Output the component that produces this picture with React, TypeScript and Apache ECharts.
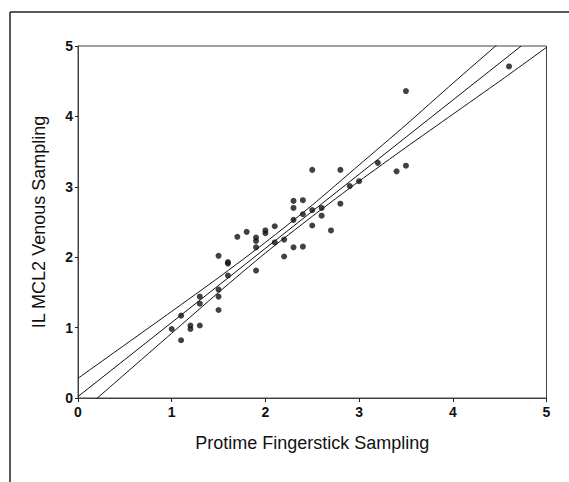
import React, { useEffect, useRef } from "react";
import * as echarts from "echarts";

const xTicks = [0, 1, 2, 3, 4, 5];
const yTicks = [0, 1, 2, 3, 4, 5];

const fingerstick = [
  1.0, 1.1, 1.1, 1.2, 1.2, 1.3, 1.3, 1.3, 1.5, 1.5, 1.5, 1.5, 1.6, 1.6, 1.6, 1.7,
  1.8, 1.9, 1.9, 1.9, 1.9, 2.0, 2.0, 2.1, 2.1, 2.2, 2.2, 2.3, 2.3, 2.3, 2.3, 2.4,
  2.4, 2.4, 2.5, 2.5, 2.5, 2.6, 2.6, 2.7, 2.8, 2.8, 2.9, 3.0, 3.2, 3.4, 3.5, 3.5, 4.6,
];
const venous = [
  0.98, 1.17, 0.82, 1.03, 0.98, 1.03, 1.34, 1.44, 1.25, 1.44, 1.54, 2.02, 1.74, 1.91, 1.93, 2.29,
  2.36, 2.28, 2.23, 2.14, 1.81, 2.38, 2.34, 2.44, 2.21, 2.25, 2.01, 2.8, 2.7, 2.53, 2.14, 2.81,
  2.61, 2.15, 3.24, 2.67, 2.45, 2.7, 2.59, 2.38, 3.24, 2.76, 3.01, 3.08, 3.34, 3.22, 4.36, 3.3, 4.71,
];

// regression line and its confidence band
const fitLine = [[0, 0.02], [4.73, 5]];
const bandX = [0, 0.5, 1, 1.5, 2, 2.5, 3, 3.5, 4, 4.5, 5];
const bandUpper = [0.28, 0.755, 1.23, 1.71, 2.21, 2.74, 3.31, 3.88, 4.47, 5.05, 5.63];
const bandLower = [-0.24, 0.34, 0.92, 1.5, 2.06, 2.58, 3.08, 3.56, 4.03, 4.5, 4.98];

const FONT = "Liberation Sans, Arial, sans-serif";

export default function App() {
  const ref = useRef<HTMLDivElement>(null);
  useEffect(() => {
    if (!ref.current) return;
    const chart = echarts.init(ref.current, null, { renderer: "svg" });
    const points = fingerstick.map((x, i) => [x, venous[i]]);
    const lineSeries = (data: number[][]) => ({
      type: "line",
      data,
      showSymbol: false,
      symbol: "none",
      clip: true,
      smooth: 0.2,
      lineStyle: { color: "#111", width: 1 },
      silent: true,
    });
    chart.setOption({
      animation: false,
      backgroundColor: "#fff",
      grid: {
        left: 78,
        right: 22.5,
        top: 46,
        bottom: 84,
        show: true,
        borderColor: "#444",
        borderWidth: 1,
        backgroundColor: "transparent",
      },
      xAxis: {
        type: "value",
        min: 0,
        max: 5,
        interval: 1,
        name: "Protime Fingerstick Sampling",
        nameLocation: "middle",
        nameGap: 36,
        nameTextStyle: { fontFamily: FONT, fontSize: 18, color: "#111" },
        splitLine: { show: false },
        axisLine: { show: true, lineStyle: { color: "#444", width: 1 } },
        axisTick: { show: true, inside: false, length: 4, lineStyle: { color: "#222" } },
        axisLabel: {
          fontFamily: FONT,
          fontSize: 14,
          fontWeight: "bold",
          color: "#111",
          margin: 7,
          formatter: (v: number) => (xTicks.includes(v) ? String(v) : ""),
        },
      },
      yAxis: {
        type: "value",
        min: 0,
        max: 5,
        interval: 1,
        name: "IL MCL2 Venous Sampling",
        nameLocation: "middle",
        nameGap: 30,
        nameTextStyle: { fontFamily: FONT, fontSize: 18, color: "#111" },
        splitLine: { show: false },
        axisLine: { show: true, lineStyle: { color: "#444", width: 1 } },
        axisTick: { show: true, inside: false, length: 3, lineStyle: { color: "#222" } },
        axisLabel: {
          fontFamily: FONT,
          fontSize: 14,
          fontWeight: "bold",
          color: "#111",
          margin: 5,
          formatter: (v: number) => (yTicks.includes(v) ? String(v) : ""),
        },
      },
      graphic: [
        { type: "line", shape: { x1: 10, y1: 12, x2: 569, y2: 12 }, style: { stroke: "#222", lineWidth: 1.5 } },
        { type: "line", shape: { x1: 10, y1: 12, x2: 10, y2: 482 }, style: { stroke: "#222", lineWidth: 1.5 } },
      ],
      series: [
        lineSeries(bandX.map((x, i) => [x, bandUpper[i]])),
        { ...lineSeries(fitLine), smooth: false },
        lineSeries(bandX.map((x, i) => [x, bandLower[i]])),
        {
          type: "scatter",
          data: points,
          symbol: "circle",
          symbolSize: 6,
          itemStyle: { color: "#111" },
        },
      ],
    });
    return () => chart.dispose();
  }, []);
  return (
    <div
      ref={ref}
      style={{ position: "fixed", left: 0, top: 0, width: 569, height: 482, background: "#fff" }}
    />
  );
}
